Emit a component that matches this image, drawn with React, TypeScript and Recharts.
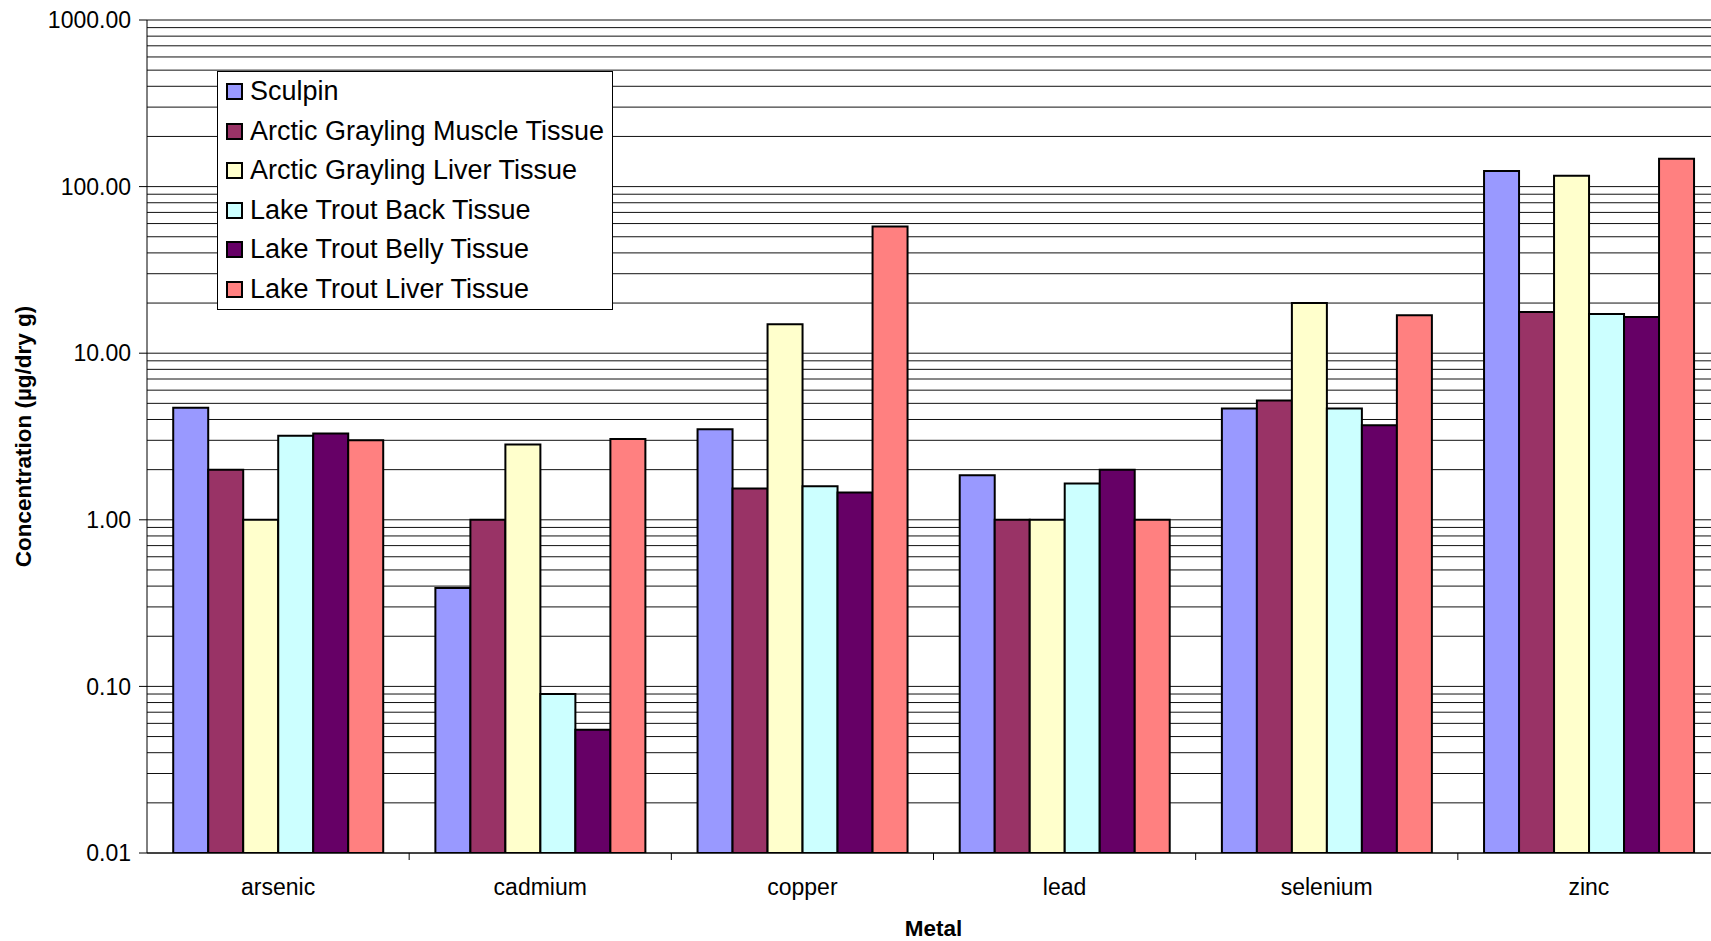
import { BarChart, Bar, XAxis, YAxis, CartesianGrid, Legend } from "recharts";

const metals = ["arsenic", "cadmium", "copper", "lead", "selenium", "zinc"];

// concentration, µg/dry g
const sculpin = [4.7, 0.39, 3.5, 1.85, 4.65, 124];
const graylingMuscle = [2.0, 1.0, 1.54, 1.0, 5.2, 17.7];
const graylingLiver = [1.0, 2.83, 14.9, 1.0, 20.0, 116];
const troutBack = [3.2, 0.09, 1.59, 1.65, 4.65, 17.2];
const troutBelly = [3.3, 0.055, 1.46, 2.0, 3.7, 16.5];
const troutLiver = [3.0, 3.06, 57.7, 1.0, 16.9, 147];

const yTicks = [0.01, 0.1, 1, 10, 100, 1000];

const series = [
  { key: "sculpin", name: "Sculpin", color: "#9999FF", values: sculpin },
  { key: "graylingMuscle", name: "Arctic Grayling Muscle Tissue", color: "#993366", values: graylingMuscle },
  { key: "graylingLiver", name: "Arctic Grayling Liver Tissue", color: "#FFFFCC", values: graylingLiver },
  { key: "troutBack", name: "Lake Trout Back Tissue", color: "#CCFFFF", values: troutBack },
  { key: "troutBelly", name: "Lake Trout Belly Tissue", color: "#660066", values: troutBelly },
  { key: "troutLiver", name: "Lake Trout Liver Tissue", color: "#FF8080", values: troutLiver },
];

const data = metals.map((metal, i) => {
  const row: Record<string, any> = { metal };
  series.forEach((s) => (row[s.key] = s.values[i]));
  return row;
});

// log gridlines: 1..9 in every decade
const gridValues: number[] = [];
for (let d = -2; d < 3; d++) {
  for (let k = 1; k < 10; k++) gridValues.push(Number((k * Math.pow(10, d)).toPrecision(3)));
}
gridValues.push(1000);

const FONT = "'Liberation Sans', Arial, Helvetica, sans-serif";
const CHART_W = 1722;
const CHART_H = 941;
const MARGIN = { top: 20, right: 2, bottom: 0, left: 0 };
const Y_AXIS_W = 147;
const X_AXIS_H = 88;
const LABEL_GAP = 26;
const BAND = (CHART_W - MARGIN.left - MARGIN.right - Y_AXIS_W) / metals.length;

const MetalTick = ({ x, y, payload, index }: any) => {
  const axisY = y - LABEL_GAP;
  const edge = x - BAND / 2;
  return (
    <g>
      {index > 0 && <line x1={edge} x2={edge} y1={axisY} y2={axisY + 7} stroke="#000" />}
      <text x={x} y={y} dy="0.71em" textAnchor="middle" fill="#000" fontSize={23} fontFamily={FONT}>
        {payload.value}
      </text>
    </g>
  );
};

const LegendBox = () => (
  <div
    style={{
      background: "#fff",
      border: "1px solid #000",
      width: 394,
      fontFamily: FONT,
      fontSize: 27,
      color: "#000",
    }}
  >
    {series.map((s) => (
      <div key={s.key} style={{ display: "flex", alignItems: "center", height: 39.5 }}>
        <span
          style={{
            display: "inline-block",
            width: 13,
            height: 13,
            marginLeft: 8,
            marginRight: 7,
            background: s.color,
            border: "2px solid #000",
          }}
        />
        <span style={{ whiteSpace: "nowrap" }}>{s.name}</span>
      </div>
    ))}
  </div>
);

export default function App() {
  return (
    <div
      style={{
        position: "fixed",
        left: 0,
        top: 0,
        width: 1711,
        height: 941,
        overflow: "hidden",
        background: "#fff",
      }}
    >
      <BarChart width={CHART_W} height={CHART_H} data={data} margin={MARGIN} barCategoryGap="10%" barGap={0}>
        <CartesianGrid horizontalValues={gridValues} vertical={false} stroke="#111" />
        <XAxis
          dataKey="metal"
          height={X_AXIS_H}
          tickSize={0}
          tickMargin={LABEL_GAP}
          tickLine={false}
          interval={0}
          axisLine={{ stroke: "#000" }}
          tick={<MetalTick />}
          label={{
            value: "Metal",
            position: "insideBottom",
            offset: 5,
            fill: "#000",
            fontSize: 22.5,
            fontWeight: "bold",
            fontFamily: FONT,
          }}
        />
        <YAxis
          type="number"
          scale="log"
          domain={[0.01, 1000]}
          allowDataOverflow
          ticks={yTicks}
          interval={0}
          width={Y_AXIS_W}
          tickSize={8}
          tickMargin={8}
          tickFormatter={(v: number) => v.toFixed(2)}
          tick={{ fill: "#000", fontSize: 23, fontFamily: FONT }}
          axisLine={{ stroke: "#000" }}
          tickLine={{ stroke: "#000" }}
          label={{
            value: "Concentration (µg/dry g)",
            angle: -90,
            position: "insideLeft",
            offset: 23,
            fill: "#000",
            fontSize: 22.5,
            fontWeight: "bold",
            fontFamily: FONT,
            style: { textAnchor: "middle" },
          }}
        />
        <Legend
          layout="vertical"
          align="center"
          verticalAlign="middle"
          content={() => <LegendBox />}
          wrapperStyle={{ left: 217, top: 71, width: "auto" }}
        />
        {series.map((s) => (
          <Bar
            key={s.key}
            dataKey={s.key}
            name={s.name}
            fill={s.color}
            stroke="#000"
            strokeWidth={2}
            isAnimationActive={false}
          />
        ))}
      </BarChart>
    </div>
  );
}
